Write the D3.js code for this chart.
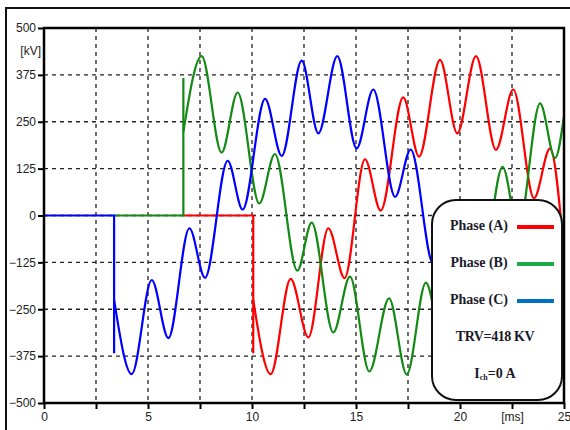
<!DOCTYPE html>
<html>
<head>
<meta charset="utf-8">
<script src="https://cdn.jsdelivr.net/npm/d3@7"></script>
<style>
  body { margin: 0; background: #fff; }
  svg { display: block; }
</style>
</head>
<body>
<svg id="trv" width="570" height="430"></svg>
<script>
(function() {
// values: time in ms, voltage in kV

var xTicks = [0, 2.5, 5, 7.5, 10, 12.5, 15, 17.5, 20, 22.5, 25];
var xLabels = ["0", "", "5", "", "10", "", "15", "", "20", "[ms]", "25"];
var yTicks = [500, 375, 250, 125, 0, -125, -250, -375, -500];

// switching instant of each pole, the spike and the first value after it
var switchA = 10.06, spikeA = -367, startA = -225;
var switchB = 6.7,  spikeB = 367,  startB = 223;
var switchC = 3.37, spikeC = -367, startC = -225;

// peaks and troughs after switching
var phaseA = [[10.06,-225],[10.9,-423],[11.86,-169],[12.71,-325],[13.67,-34],[14.45,-167],
  [15.43,150],[16.19,13],[17.27,315],[18.03,157],[19.04,415],[19.87,219],[20.77,425],
  [21.73,175],[22.56,336],[23.56,46],[24.33,179],[25,-100]];
var phaseB = [[6.7,223],[7.58,425],[8.54,168],[9.31,328],[10.35,32],[11.1,164],[12.18,-147],
  [12.87,-19],[13.91,-312],[14.71,-163],[15.64,-416],[16.59,-221],[17.44,-424],[18.36,-179],
  [19.16,-336],[20.21,-50],[20.96,-176],[22.05,130],[22.8,-40],[23.85,299],[24.57,153],[25,265]];
var phaseC = [[3.37,-225],[4.22,-423],[5.18,-172],[5.98,-327],[6.99,-34],[7.74,-166],
  [8.83,146],[9.55,16],[10.63,311],[11.43,159],[12.39,413],[13.19,219],[14.1,425],
  [15.03,179],[15.83,336],[16.88,50],[17.63,176],[18.72,-130],[19.62,0],[20.52,-299],
  [21.24,-153],[22.2,-410],[23.0,-230],[23.9,-425],[25,-190]];

var svg = d3.select("#trv");

var x = d3.scaleLinear().domain([0, 25]).range([44, 564]);
var y = d3.scaleLinear().domain([-500, 500]).range([403, 28]);

// outer frame of the figure
svg.append("rect")
  .attr("x", 6).attr("y", 8)
  .attr("width", 600).attr("height", 500)
  .attr("fill", "none").attr("stroke", "#111").attr("stroke-width", 2);

// dashed grid
svg.append("g").selectAll("line")
  .data(xTicks.slice(1, -1))
  .join("line")
    .attr("x1", d => x(d)).attr("x2", d => x(d))
    .attr("y1", y(500)).attr("y2", y(-500))
    .attr("stroke", "#222").attr("stroke-width", 1.3)
    .attr("stroke-dasharray", "4,4");

svg.append("g").selectAll("line")
  .data(yTicks.slice(1, -1))
  .join("line")
    .attr("x1", x(0)).attr("x2", x(25))
    .attr("y1", d => y(d)).attr("y2", d => y(d))
    .attr("stroke", "#222").attr("stroke-width", 1.3)
    .attr("stroke-dasharray", "4,4");

// axes
var yAxis = d3.axisLeft(y).tickValues(yTicks).tickSize(6).tickPadding(2);
var xAxis = d3.axisBottom(x).tickValues(xTicks).tickSize(6).tickPadding(3)
  .tickFormat((d, i) => xLabels[i]);

var gy = svg.append("g").attr("transform", "translate(" + x(0) + ",0)").call(yAxis);
var gx = svg.append("g").attr("transform", "translate(0," + y(-500) + ")").call(xAxis);

[gx, gy].forEach(function(g) {
  g.select(".domain").remove();
  g.selectAll("line").attr("stroke", "#000").attr("stroke-width", 2);
  g.selectAll("text")
    .attr("fill", "#222")
    .style("font-family", "Liberation Sans, Arial, sans-serif")
    .style("font-size", "12px");
});

svg.append("text")
  .attr("x", 41).attr("y", 52)
  .attr("text-anchor", "end").attr("dominant-baseline", "middle")
  .attr("fill", "#222")
  .style("font-family", "Liberation Sans, Arial, sans-serif")
  .style("font-size", "12px")
  .text("[kV]");

// curves
svg.append("clipPath").attr("id", "plotClip")
  .append("rect")
  .attr("x", x(0)).attr("y", y(500))
  .attr("width", x(25) - x(0)).attr("height", y(-500) - y(500));

var plot = svg.append("g").attr("clip-path", "url(#plotClip)");

var stepLine = d3.line().x(d => x(d[0])).y(d => y(d[1]));
var waveLine = d3.line().x(d => x(d[0])).y(d => y(d[1])).curve(d3.curveMonotoneX);

// each zero segment starts where the pole drawn above it leaves zero
var phases = [
  {pts: phaseA, from: switchB, sw: switchA, spike: spikeA, color: "#ff0000"},
  {pts: phaseB, from: switchC, sw: switchB, spike: spikeB, color: "#138a13"},
  {pts: phaseC, from: 0, sw: switchC, spike: spikeC, color: "#0000ff"}
];

phases.forEach(function(p) {
  plot.append("path")
    .attr("d", stepLine([[p.from, 0], [p.sw, 0], [p.sw, p.spike]]))
    .attr("fill", "none").attr("stroke", p.color).attr("stroke-width", 2.2);
  plot.append("path")
    .attr("d", waveLine(p.pts))
    .attr("fill", "none").attr("stroke", p.color).attr("stroke-width", 2.2)
    .attr("stroke-linejoin", "round");
});

// plot frame
svg.append("rect")
  .attr("x", x(0)).attr("y", y(500))
  .attr("width", x(25) - x(0)).attr("height", y(-500) - y(500))
  .attr("fill", "none").attr("stroke", "#000").attr("stroke-width", 2.5);

// legend box
var legend = svg.append("g");
legend.append("rect")
  .attr("x", 432).attr("y", 200).attr("width", 130).attr("height", 200)
  .attr("rx", 24).attr("ry", 24)
  .attr("fill", "#fff").attr("stroke", "#111").attr("stroke-width", 2);

var legendNames = ["Phase (A)", "Phase (B)", "Phase (C)"];
var legendColors = ["#ff0000", "#1fa846", "#0070c0"];

var serif = "Liberation Serif, Times New Roman, serif";

legendNames.forEach(function(name, i) {
  var ly = 227 + i * 37;
  legend.append("text")
    .attr("x", 479).attr("y", ly)
    .attr("text-anchor", "middle").attr("dominant-baseline", "middle")
    .attr("fill", "#1a1a2a")
    .style("font-family", serif)
    .style("font-weight", "bold").style("font-size", "14px")
    .text(name);
  legend.append("line")
    .attr("x1", 517).attr("x2", 554).attr("y1", ly).attr("y2", ly)
    .attr("stroke", legendColors[i]).attr("stroke-width", 4);
});

legend.append("text")
  .attr("x", 495).attr("y", 338)
  .attr("text-anchor", "middle").attr("dominant-baseline", "middle")
  .attr("fill", "#1a1a2a")
  .style("font-family", serif)
  .style("font-weight", "bold").style("font-size", "14px")
  .style("letter-spacing", "-0.4px")
  .text("TRV=418 KV");

var ich = legend.append("text")
  .attr("x", 495).attr("y", 375)
  .attr("text-anchor", "middle").attr("dominant-baseline", "middle")
  .attr("fill", "#1a1a2a")
  .style("font-family", serif)
  .style("font-weight", "bold").style("font-size", "14px");
ich.append("tspan").text("I");
ich.append("tspan").attr("dy", 3).style("font-size", "8px").text("ch");
ich.append("tspan").attr("dy", -3).text("=0 A");

})();
</script>
</body>
</html>
